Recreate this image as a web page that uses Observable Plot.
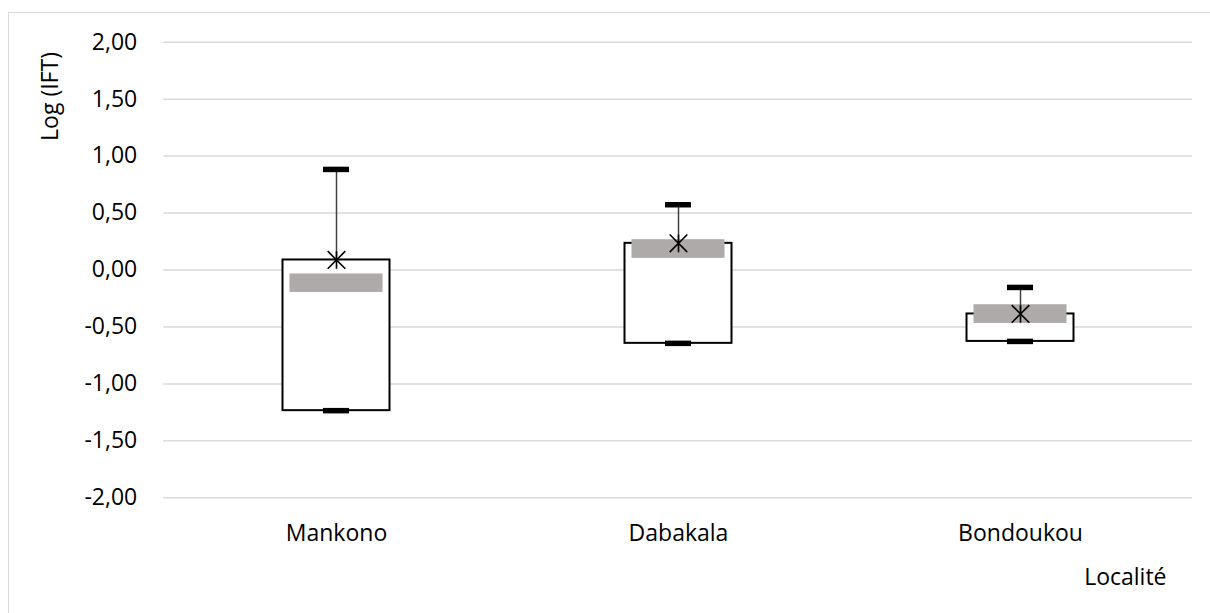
<!DOCTYPE html>
<html>
<head>
<meta charset="utf-8">
<script src="https://cdn.jsdelivr.net/npm/d3@7"></script>
<script src="https://cdn.jsdelivr.net/npm/@observablehq/plot@0.6"></script>
<style>
  html, body { margin: 0; padding: 0; background: #fff; width: 1210px; height: 613px; overflow: hidden; }
  #frame { position: absolute; left: 8px; top: 12px; width: 1300px; height: 700px; border-left: 1.5px solid #d9d9d9; border-top: 1.5px solid #d9d9d9; box-sizing: border-box; }
  #chart { position: absolute; left: 0; top: 0; }
</style>
</head>
<body>
<div id="frame"></div>
<div id="chart"></div>
<script>
// Data
const localites = ["Mankono", "Dabakala", "Bondoukou"];
const minimum   = [-1.235, -0.644, -0.627];   // bottom of box / lower cap
const moyenne   = [0.088, 0.234, -0.386];      // top of box / × marker
const maximum   = [0.883, 0.573, -0.153];      // upper cap
const grisBas   = [-0.197, 0.102, -0.469];     // grey band lower edge
const grisHaut  = [-0.035, 0.266, -0.305];     // grey band upper edge
const yTicks    = [-2, -1.5, -1, -0.5, 0, 0.5, 1, 1.5, 2];
const yLabel = "Log (IFT)";
const xLabel = "Localité";

const data = localites.map((loc, i) => ({
  loc, min: minimum[i], mean: moyenne[i], max: maximum[i], lo: grisBas[i], hi: grisHaut[i]
}));

const fmt = d => d.toFixed(2).replace(".", ",");

// Excel-style "star" marker: × with a vertical stroke
const starSymbol = {
  draw(context, size) {
    const r = Math.sqrt(size / Math.PI) * 1.1;
    context.moveTo(-r, -r); context.lineTo(r, r);
    context.moveTo(-r, r); context.lineTo(r, -r);
    context.moveTo(0, -r); context.lineTo(0, r);
  }
};

const chart = Plot.plot({
  width: 1210,
  height: 613,
  marginTop: 41.7,
  marginBottom: 115.7,
  marginLeft: 163.3,
  marginRight: 18,
  style: { fontFamily: "'Open Sans', sans-serif", fontSize: "23px", color: "#000", background: "transparent" },
  x: { domain: localites, padding: 0 },
  y: { domain: [-2, 2] },
  marks: [
    Plot.ruleY(yTicks, { stroke: "#d9d9d9", strokeWidth: 1.5, strokeOpacity: 1 }),
    Plot.axisY({ ticks: yTicks, tickSize: 0, tickPadding: 26.6, tickFormat: fmt, label: null, fill: "#000" }),
    Plot.axisX({ tickSize: 0, tickPadding: 26.4, label: null, fill: "#000" }),
    Plot.barY(data, { x: "loc", y1: "min", y2: "mean", fill: "white", stroke: "black", strokeWidth: 2, insetLeft: 117.5, insetRight: 117.5 }),
    Plot.barY(data, { x: "loc", y1: "lo", y2: "hi", fill: "#aeaaaa", insetLeft: 124.5, insetRight: 124.5 }),
    Plot.ruleX(data, { x: "loc", y1: "mean", y2: "max", stroke: "#404040", strokeWidth: 1.5 }),
    Plot.tickY(data, { x: "loc", y: "max", stroke: "black", strokeWidth: 5.5, insetLeft: 158, insetRight: 158 }),
    Plot.tickY(data, { x: "loc", y: "min", stroke: "black", strokeWidth: 5.5, insetLeft: 158, insetRight: 158 }),
    Plot.dot(data, { x: "loc", y: "mean", symbol: starSymbol, r: 8, stroke: "black", strokeWidth: 1.6, fill: "none" }),
    Plot.text([yLabel], { text: d => d, frameAnchor: "top-left", rotate: -90, textAnchor: "middle", dx: -122, dy: 54.3, fill: "#000" }),
    Plot.text([xLabel], { text: d => d, frameAnchor: "bottom-right", textAnchor: "end", dx: -26, dy: 87, fill: "#000" })
  ]
});
document.getElementById("chart").appendChild(chart);
</script>
</body>
</html>
